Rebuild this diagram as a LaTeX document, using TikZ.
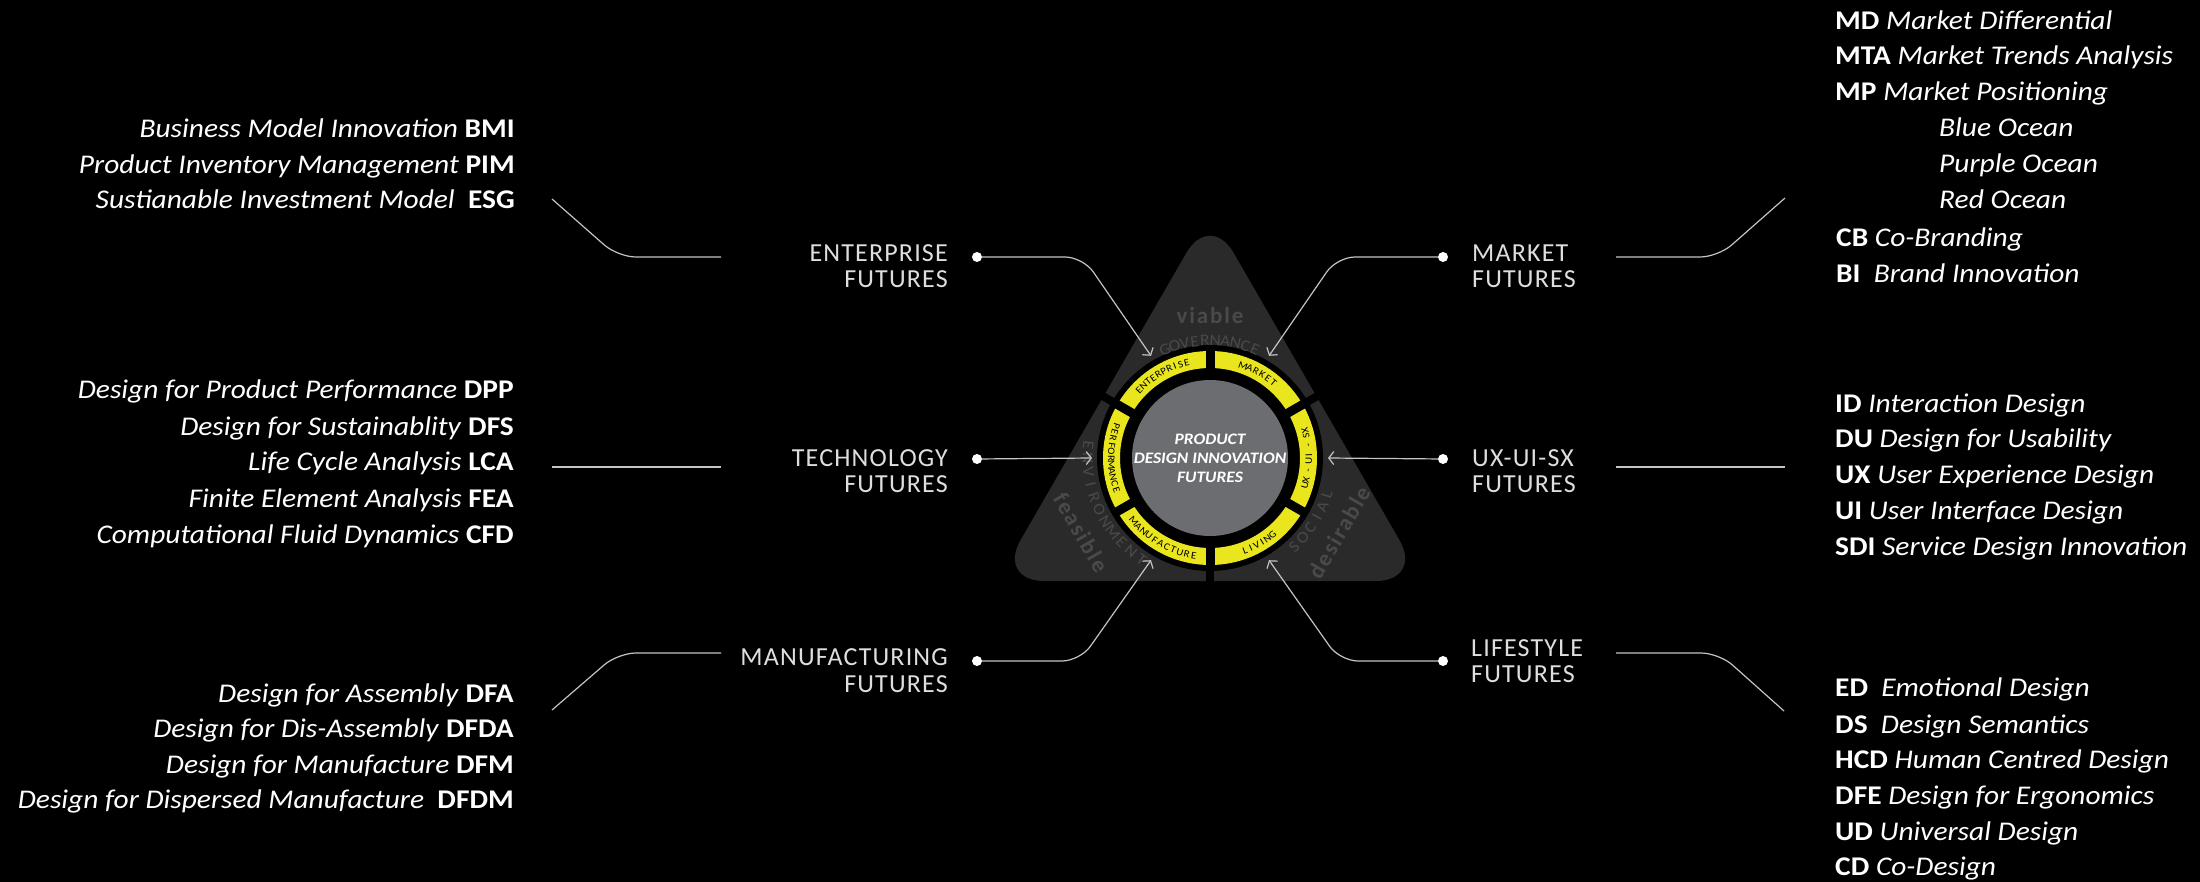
\documentclass[tikz,border=0pt]{standalone}
\usepackage{fontspec}
\setmainfont{Carlito}[FakeStretch=1.09]
\newfontfamily\labelfont{Carlito}[LetterSpace=4.5]
\newfontfamily\markfont{Carlito}[LetterSpace=8.0]
\usetikzlibrary{arrows.meta, positioning}
\definecolor{ringyellow}{RGB}{234,230,30}
\definecolor{trigray}{RGB}{42,42,42}
\definecolor{trimark}{RGB}{74,74,74}
\definecolor{hubgray}{RGB}{108,109,112}
\definecolor{wirecol}{RGB}{196,196,196}
\definecolor{labelgray}{RGB}{222,222,222}
\tikzset{
  listtxt/.style={text=white, inner sep=0pt, font=\fontsize{27}{30}\selectfont},
  futlabel/.style={text=labelgray, inner sep=0pt, font=\labelfont\fontsize{26}{26}\selectfont},
  dot/.style={circle, fill=white, minimum size=10pt, inner sep=0pt},
  wire/.style={draw=wirecol, line width=1.2pt, rounded corners=18pt},
  ringch/.style={text=black, inner sep=0pt, text height=7pt, text depth=0pt, font=\fontsize{10}{10}\selectfont},
  trich/.style={text=trimark, inner sep=0pt, text height=11pt, text depth=0pt, font=\fontsize{16}{16}\selectfont},
  bigmark/.style={text=trimark, inner sep=0pt, font=\markfont\bfseries\fontsize{23}{23}\selectfont},
  tip/.style={-{Straight Barb[length=5pt,width=13pt]}},
}
% letters along an arc: style, mid angle, radius, step, turn, count, letters
\newcommand{\ringword}[7]{%
  \foreach \c [count=\i, evaluate=\i as \a using {#2+(\i-(#6+1)/2)*#4}] in {#7}
    \node[#1, rotate=\a#5] (#1-#2-\i) at (\a:#3) {\c};}

\begin{document}
\begin{tikzpicture}[x=1pt, y=-1pt]
  \fill[black] (0,0) rectangle (2200,882);
  \useasboundingbox (0,0) rectangle (2200,882);

  \coordinate (hub) at (1210,458);
  % emblem
  \begin{scope}[shift={(hub)}, yscale=-1]
    \fill[trigray, rounded corners=47pt] (270:123) -- (330:246) -- (90:246) -- (210:246) -- cycle;
    \foreach \a in {30,150,270} \draw[black, line width=8pt] (0,0) -- (\a:135);
    \fill[black] (0,0) circle[radius=113];
    \fill[ringyellow, even odd rule] (0,0) circle[radius=107] (0,0) circle[radius=90];
    \foreach \a in {30,90,...,330} \draw[black, line width=9pt] (\a:85) -- (\a:110);
    \fill[hubgray] (0,0) circle[radius=78];
    \node[text=white, align=center, font=\bfseries\itshape\fontsize{16}{19}\selectfont] (hubtxt) at (0,0) {PRODUCT\\DESIGN INNOVATION\\FUTURES};

    \ringword{ringch}{120}{98.5}{-3.6}{-90}{10}{E,N,T,E,R,P,R,I,S,E}
    \ringword{ringch}{60}{98.5}{-4.1}{-90}{6}{M,A,R,K,E,T}
    \ringword{ringch}{180}{98.5}{3.8}{+90}{11}{P,E,R,F,O,R,M,A,N,C,E}
    \ringword{ringch}{240}{98.5}{4.1}{+90}{11}{M,A,N,U,F,A,C,T,U,R,E}
    \ringword{ringch}{300}{98.5}{3.7}{+90}{6}{L,I,V,I,N,G}
    \ringword{ringch}{0}{98.5}{2.9}{+90}{12}{U,X,{},-,{},U,I,{},-,{},S,X}

    \ringword{trich}{90}{118}{-5}{-90}{10}{G,O,V,E,R,N,A,N,C,E}
    \ringword{trich}{205}{122}{6.2}{+90}{11}{E,N,V,I,R,O,N,M,E,N,T}
    \ringword{trich}{328}{122}{5.8}{+90}{6}{S,O,C,I,A,L}

    \node[bigmark, anchor=base] (viable) at (90:134) {viable};
    \node[bigmark, anchor=base, rotate=-60] (feasible) at (210:157) {feasible};
    \node[bigmark, anchor=base, rotate=60] (desirable) at (330:157) {desirable};

    \coordinate (entIn) at (120:118);
    \coordinate (mktIn) at (60:118);
    \coordinate (tecIn) at (180:118);
    \coordinate (uxIn) at (0:118);
    \coordinate (manIn) at (240:118);
    \coordinate (lifIn) at (300:118);
  \end{scope}

  % futures labels
  \node[futlabel, anchor=base east] (entL1) at (948,262) {ENTERPRISE};
  \node[futlabel, anchor=base east] (entL2) at (948,288) {FUTURES};
  \node[futlabel, anchor=base east] (tecL1) at (948,466) {TECHNOLOGY};
  \node[futlabel, anchor=base east] (tecL2) at (948,492) {FUTURES};
  \node[futlabel, anchor=base east] (manL1) at (948,665) {MANUFACTURING};
  \node[futlabel, anchor=base east] (manL2) at (948,692) {FUTURES};
  \node[futlabel, anchor=base west] (mktL1) at (1472,262) {MARKET};
  \node[futlabel, anchor=base west] (mktL2) at (1472,288) {FUTURES};
  \node[futlabel, anchor=base west] (uxL1) at (1472,466) {UX-UI-SX};
  \node[futlabel, anchor=base west] (uxL2) at (1472,492) {FUTURES};
  \node[futlabel, anchor=base west] (lifL1) at (1471,656) {LIFESTYLE};
  \node[futlabel, anchor=base west] (lifL2) at (1471,682) {FUTURES};

  \node[dot] (entDot) at (977,257) {};
  \node[dot] (tecDot) at (977,459) {};
  \node[dot] (manDot) at (977,661) {};
  \node[dot] (mktDot) at (1443,257) {};
  \node[dot] (uxDot) at (1443,459) {};
  \node[dot] (lifDot) at (1443,661) {};

  \draw[wire, tip] (entDot) -- (1083,257) -- (entIn);
  \draw[wire, tip] (tecDot) -- (tecIn);
  \draw[wire, tip] (manDot) -- (1080,661) -- (manIn);
  \draw[wire, tip] (mktDot) -- (1337,257) -- (mktIn);
  \draw[wire, tip] (uxDot) -- (uxIn);
  \draw[wire, tip] (lifDot) -- (1340,661) -- (lifIn);

  % side wires
  \coordinate (entA) at (552,199);  \coordinate (entB) at (721,257);
  \coordinate (tecA) at (552,467);  \coordinate (tecB) at (721,467);
  \coordinate (manA) at (552,710);  \coordinate (manB) at (721,653);
  \coordinate (mktA) at (1616,257); \coordinate (mktB) at (1785,198);
  \coordinate (uxA) at (1616,467);  \coordinate (uxB) at (1785,467);
  \coordinate (lifA) at (1616,653); \coordinate (lifB) at (1784,711);
  \draw[wire] (entA) -- (618,257) -- (entB);
  \draw[wire] (tecA) -- (tecB);
  \draw[wire] (manA) -- (618,653) -- (manB);
  \draw[wire] (mktA) -- (1718,257) -- (mktB);
  \draw[wire] (uxA) -- (uxB);
  \draw[wire] (lifA) -- (1719,653) -- (lifB);

  % lists
  \foreach \y/\t [count=\i] in {138/{\textit{Business Model Innovation} \textbf{BMI}},
      174/{\textit{Product Inventory Management} \textbf{PIM}},
      209/{\textit{Sustianable Investment Model}~ \textbf{ESG}}}
    \node[listtxt, anchor=base east] (ent-\i) at (515,\y) {\t};
  \foreach \y/\t [count=\i] in {399/{\textit{Design for Product Performance} \textbf{DPP}},
      435/{\textit{Design for Sustainablity} \textbf{DFS}},
      470/{\textit{Life Cycle Analysis} \textbf{LCA}},
      507/{\textit{Finite Element Analysis} \textbf{FEA}},
      543/{\textit{Computational Fluid Dynamics} \textbf{CFD}}}
    \node[listtxt, anchor=base east] (tec-\i) at (514,\y) {\t};
  \foreach \y/\t [count=\i] in {702/{\textit{Design for Assembly} \textbf{DFA}},
      737/{\textit{Design for Dis-Assembly} \textbf{DFDA}},
      773/{\textit{Design for Manufacture} \textbf{DFM}},
      808/{\textit{Design for Dispersed Manufacture}~ \textbf{DFDM}}}
    \node[listtxt, anchor=base east] (man-\i) at (514,\y) {\t};
  \foreach \x/\y/\t [count=\i] in {1835/30/{\textbf{MD} \textit{Market Differential}},
      1835/65/{\textbf{MTA} \textit{Market Trends Analysis}},
      1835/101/{\textbf{MP} \textit{Market Positioning}},
      1939/137/{\textit{Blue Ocean}},
      1939/173/{\textit{Purple Ocean}},
      1939/209/{\textit{Red Ocean}},
      1836/247/{\textbf{CB} \textit{Co-Branding}},
      1836/283/{\textbf{BI}~ \textit{Brand Innovation}}}
    \node[listtxt, anchor=base west] (mkt-\i) at (\x,\y) {\t};
  \foreach \y/\t [count=\i] in {412/{\textbf{ID} \textit{Interaction Design}},
      447/{\textbf{DU} \textit{Design for Usability}},
      483/{\textbf{UX} \textit{User Experience Design}},
      519/{\textbf{UI} \textit{User Interface Design}},
      555/{\textbf{SDI} \textit{Service Design Innovation}}}
    \node[listtxt, anchor=base west] (ux-\i) at (1835,\y) {\t};
  \foreach \y/\t [count=\i] in {696/{\textbf{ED}~ \textit{Emotional Design}},
      733/{\textbf{DS}~ \textit{Design Semantics}},
      768/{\textbf{HCD} \textit{Human Centred Design}},
      804/{\textbf{DFE} \textit{Design for Ergonomics}},
      840/{\textbf{UD} \textit{Universal Design}},
      875/{\textbf{CD} \textit{Co-Design}}}
    \node[listtxt, anchor=base west] (lif-\i) at (1835,\y) {\t};
\end{tikzpicture}
\end{document}
